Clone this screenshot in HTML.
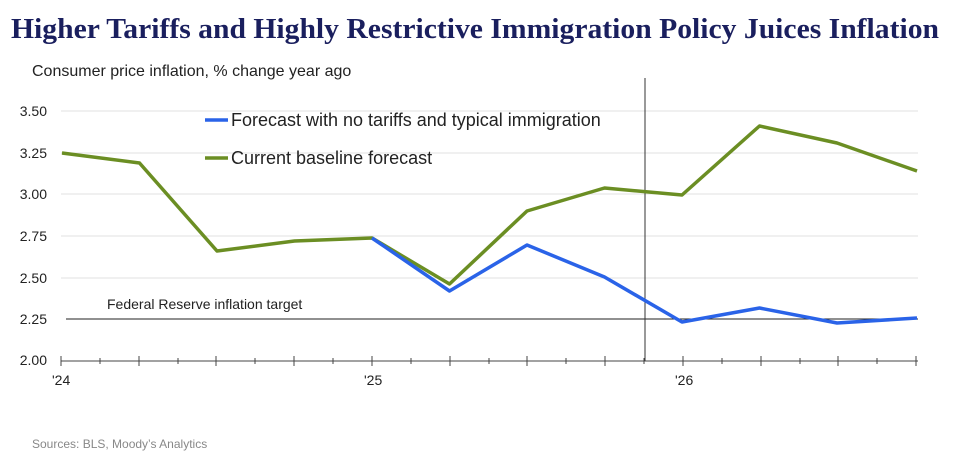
<!DOCTYPE html>
<html><head><style>
body{margin:0;background:#fff;width:960px;height:461px;overflow:hidden;font-family:"Liberation Sans",Arial,sans-serif}
</style></head><body>
<svg width="960" height="461" xmlns="http://www.w3.org/2000/svg">
<text x="11" y="38" textLength="928" lengthAdjust="spacingAndGlyphs" font-family="Liberation Serif,serif" font-weight="bold" font-size="29" fill="#1a1f5e">Higher Tariffs and Highly Restrictive Immigration Policy Juices Inflation</text>
<text x="32" y="76" font-size="16" fill="#222">Consumer price inflation, % change year ago</text>
<g stroke="#e2e2e2" stroke-width="1">
<line x1="61" x2="918" y1="111" y2="111"/><line x1="61" x2="918" y1="153" y2="153"/><line x1="61" x2="918" y1="194" y2="194"/><line x1="61" x2="918" y1="236" y2="236"/><line x1="61" x2="918" y1="278" y2="278"/>
</g>
<g font-size="14" fill="#222" text-anchor="end">
<text x="47" y="116">3.50</text><text x="47" y="158">3.25</text><text x="47" y="199">3.00</text><text x="47" y="241">2.75</text><text x="47" y="283">2.50</text><text x="47" y="324">2.25</text><text x="47" y="365">2.00</text>
</g>
<line x1="66" x2="918" y1="319" y2="319" stroke="#222" stroke-width="1"/>
<text x="107" y="309" font-size="14" fill="#222">Federal Reserve inflation target</text>
<line x1="61" x2="918" y1="361" y2="361" stroke="#444" stroke-width="1"/>
<g stroke="#444" stroke-width="1">
<line x1="61" x2="61" y1="356" y2="366"/><line x1="100" x2="100" y1="358" y2="364"/><line x1="139" x2="139" y1="356" y2="366"/><line x1="178" x2="178" y1="358" y2="364"/><line x1="216" x2="216" y1="356" y2="366"/><line x1="255" x2="255" y1="358" y2="364"/><line x1="294" x2="294" y1="356" y2="366"/><line x1="333" x2="333" y1="358" y2="364"/><line x1="372" x2="372" y1="356" y2="366"/><line x1="411" x2="411" y1="358" y2="364"/><line x1="450" x2="450" y1="356" y2="366"/><line x1="489" x2="489" y1="358" y2="364"/><line x1="527" x2="527" y1="356" y2="366"/><line x1="566" x2="566" y1="358" y2="364"/><line x1="605" x2="605" y1="356" y2="366"/><line x1="644" x2="644" y1="358" y2="364"/><line x1="683" x2="683" y1="356" y2="366"/><line x1="722" x2="722" y1="358" y2="364"/><line x1="761" x2="761" y1="356" y2="366"/><line x1="800" x2="800" y1="358" y2="364"/><line x1="838" x2="838" y1="356" y2="366"/><line x1="877" x2="877" y1="358" y2="364"/><line x1="916" x2="916" y1="356" y2="366"/>
</g>
<g font-size="14" fill="#222"><text x="52" y="385">'24</text><text x="364" y="385">'25</text><text x="675" y="385">'26</text></g>
<line x1="645" x2="645" y1="78" y2="361" stroke="#333" stroke-width="1"/>
<polyline fill="none" stroke="#6b8e23" stroke-width="3.5" stroke-linejoin="round" points="62,153 139.5,163 217,251 294.5,241 372,238 449.5,284 527,211 604.5,188 682,195 759.5,126 837,143 917,171"/>
<polyline fill="none" stroke="#2a63e8" stroke-width="3.5" stroke-linejoin="round" points="372,238 449.5,291 527,245 604.5,277 682,322 759.5,308 837,323 917,318"/>
<line x1="205" x2="228" y1="120" y2="120" stroke="#2a63e8" stroke-width="3.5"/>
<text x="231" y="126" font-size="18" fill="#222">Forecast with no tariffs and typical immigration</text>
<line x1="205" x2="228" y1="158" y2="158" stroke="#6b8e23" stroke-width="3.5"/>
<text x="231" y="164" font-size="18" fill="#222">Current baseline forecast</text>
<text x="32" y="448" font-size="12" fill="#888">Sources: BLS, Moody’s Analytics</text>
</svg>
</body></html>
